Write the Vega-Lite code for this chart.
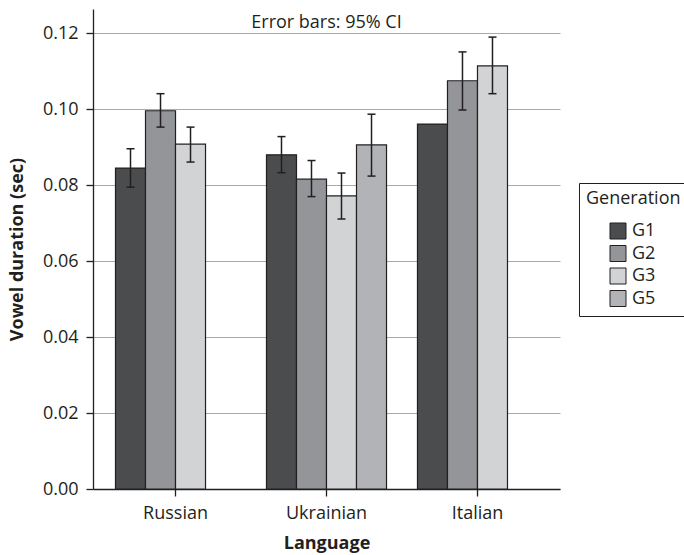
{
  "$schema": "https://vega.github.io/schema/vega-lite/v6.json",
  "width": 467,
  "height": 480,
  "autosize": {"type": "none"},
  "padding": {"left": 93, "top": 9, "right": 124, "bottom": 66},
  "background": "white",
  "config": {
    "view": {"stroke": null},
    "font": "Open Sans",
    "axis": {
      "labelFont": "Open Sans",
      "titleFont": "Open Sans",
      "labelFontSize": 18,
      "titleFontSize": 18,
      "titleFontWeight": "bold",
      "labelColor": "#231f20",
      "titleColor": "#231f20",
      "domainColor": "#231f20",
      "tickColor": "#231f20",
      "domainWidth": 1.3,
      "tickWidth": 1.3,
      "tickSize": 7
    },
    "axisY": {"grid": true, "gridColor": "#5cc4ee", "gridWidth": 1.2, "gridOpacity": 1}
  },
  "data": {
    "values": [
      {"language": "Russian", "generation": "G1", "duration": 0.0845, "lo": 0.0795, "hi": 0.0896},
      {"language": "Russian", "generation": "G2", "duration": 0.0996, "lo": 0.0953, "hi": 0.1041},
      {"language": "Russian", "generation": "G3", "duration": 0.0908, "lo": 0.0861, "hi": 0.0953},
      {"language": "Ukrainian", "generation": "G1", "duration": 0.0880, "lo": 0.0833, "hi": 0.0928},
      {"language": "Ukrainian", "generation": "G2", "duration": 0.0816, "lo": 0.0770, "hi": 0.0865},
      {"language": "Ukrainian", "generation": "G3", "duration": 0.0772, "lo": 0.0711, "hi": 0.0832},
      {"language": "Ukrainian", "generation": "G5", "duration": 0.0906, "lo": 0.0824, "hi": 0.0987},
      {"language": "Italian", "generation": "G1", "duration": 0.0961, "lo": null, "hi": null},
      {"language": "Italian", "generation": "G2", "duration": 0.1075, "lo": 0.0998, "hi": 0.1151},
      {"language": "Italian", "generation": "G3", "duration": 0.1114, "lo": 0.1041, "hi": 0.1190}
    ]
  },
  "encoding": {
    "x": {
      "field": "language",
      "type": "nominal",
      "sort": ["Russian", "Ukrainian", "Italian"],
      "scale": {"paddingInner": 0.205, "paddingOuter": 0.149},
      "axis": {"title": "Language", "labelAngle": 0, "labelPadding": 8, "titlePadding": 12, "grid": false}
    }
  },
  "layer": [
    {
      "mark": {"type": "bar", "stroke": "#231f20", "strokeWidth": 1.2},
      "encoding": {
        "xOffset": {
          "field": "generation",
          "type": "nominal",
          "scale": {"domain": ["G1", "G2", "G3", "G5"], "paddingInner": 0, "paddingOuter": 0}
        },
        "y": {
          "field": "duration",
          "type": "quantitative",
          "scale": {"domain": [0, 0.1264], "nice": false, "zero": true},
          "axis": {
            "title": "Vowel duration (sec)",
            "values": [0, 0.02, 0.04, 0.06, 0.08, 0.1, 0.12],
            "format": ".2f",
            "labelPadding": 8,
            "titlePadding": 16
          }
        },
        "fill": {
          "field": "generation",
          "type": "nominal",
          "scale": {
            "domain": ["G1", "G2", "G3", "G5"],
            "range": ["#4b4c4e", "#939598", "#d1d3d4", "#b1b3b6"]
          },
          "legend": {
            "title": "Generation",
            "orient": "none",
            "legendX": 486,
            "legendY": 174,
            "strokeColor": "#231f20",
            "padding": 7,
            "symbolType": "square",
            "symbolSize": 256,
            "symbolStrokeColor": "#231f20",
            "symbolStrokeWidth": 1,
            "symbolOffset": 23,
            "symbolOpacity": 1,
            "labelFontSize": 18,
            "labelColor": "#231f20",
            "labelFont": "Open Sans",
            "titleFont": "Open Sans",
            "titleFontSize": 18,
            "titleFontWeight": "normal",
            "titleColor": "#231f20",
            "titlePadding": 14,
            "rowPadding": 2.5,
            "labelOffset": 5
          }
        }
      }
    },
    {
      "transform": [{"filter": "isValid(datum.lo)"}],
      "mark": {"type": "rule", "color": "#231f20", "strokeWidth": 1.5},
      "encoding": {
        "xOffset": {"field": "generation", "type": "nominal"},
        "y": {"field": "lo", "type": "quantitative"},
        "y2": {"field": "hi"}
      }
    },
    {
      "transform": [{"filter": "isValid(datum.lo)"}],
      "mark": {"type": "tick", "color": "#231f20", "size": 8, "thickness": 1.5, "opacity": 1},
      "encoding": {
        "xOffset": {"field": "generation", "type": "nominal"},
        "y": {"field": "lo", "type": "quantitative"}
      }
    },
    {
      "transform": [{"filter": "isValid(datum.hi)"}],
      "mark": {"type": "tick", "color": "#231f20", "size": 8, "thickness": 1.5, "opacity": 1},
      "encoding": {
        "xOffset": {"field": "generation", "type": "nominal"},
        "y": {"field": "hi", "type": "quantitative"}
      }
    },
    {
      "data": {"values": [{"note": "Error bars: 95% CI", "language": "Ukrainian", "at": 0.1214}]},
      "mark": {"type": "text", "fontSize": 18, "font": "Open Sans", "color": "#231f20", "baseline": "alphabetic", "align": "center"},
      "encoding": {
        "y": {"field": "at", "type": "quantitative"},
        "text": {"field": "note"}
      }
    }
  ]
}
